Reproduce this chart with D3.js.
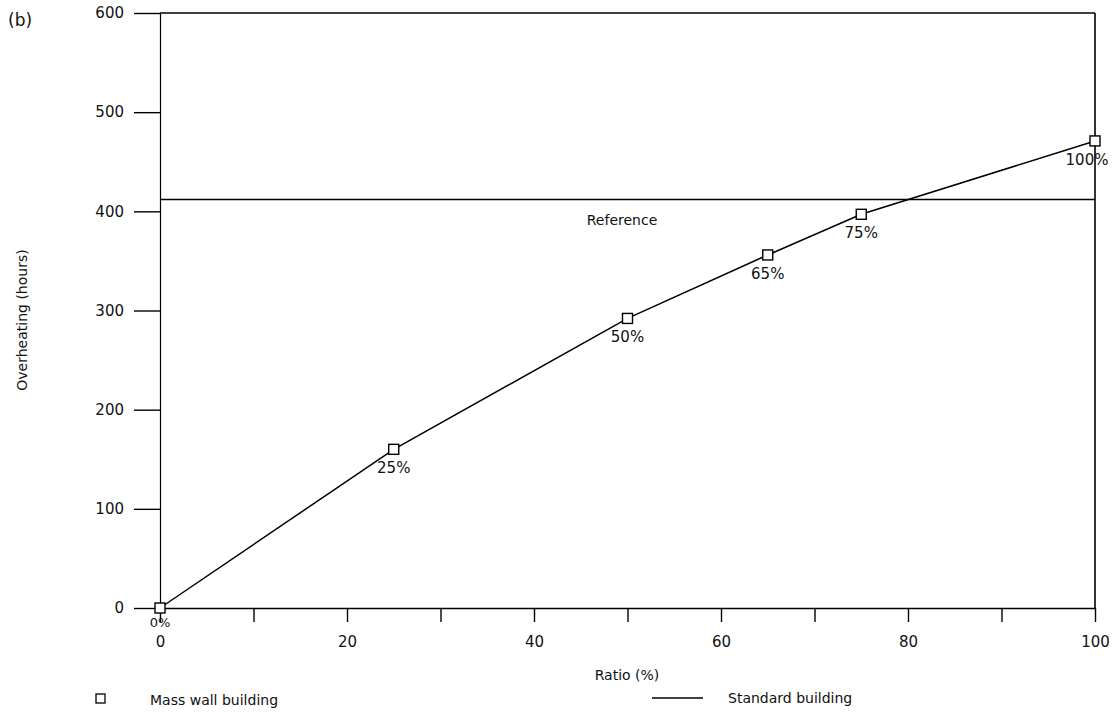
<!DOCTYPE html>
<html>
<head>
<meta charset="utf-8">
<script src="https://cdn.jsdelivr.net/npm/d3@7/dist/d3.min.js"></script>
<style>
  html, body { margin: 0; padding: 0; background: #fff; }
  svg { display: block; }
  text { font-family: "DejaVu Sans", sans-serif; fill: #111; }
</style>
</head>
<body>
<svg id="chart" width="1120" height="714"></svg>
<script>
// Mass wall ratio (%) and resulting overheating hours
const ratios = [0, 25, 50, 65, 75, 100];
const overheating = [0, 160, 292, 356, 397, 471];
const pointLabels = ["0%", "25%", "50%", "65%", "75%", "100%"];
// Standard building (reference) overheating hours
const referenceHours = 412;
const xTicks = [0, 10, 20, 30, 40, 50, 60, 70, 80, 90, 100];
const xTickLabels = ["0", "", "20", "", "40", "", "60", "", "80", "", "100"];
const yTicks = [0, 100, 200, 300, 400, 500, 600];

const svg = d3.select("#chart");
const plot = { left: 160, right: 1095, top: 13, bottom: 608 };

const x = d3.scaleLinear().domain([0, 100]).range([plot.left, plot.right]);
const y = d3.scaleLinear().domain([0, 600]).range([plot.bottom, plot.top]);

// Frame
svg.append("line").attr("x1", plot.left).attr("x2", plot.right).attr("y1", plot.top).attr("y2", plot.top)
  .attr("stroke", "#000").attr("stroke-width", 1.6);
svg.append("line").attr("x1", plot.right).attr("x2", plot.right).attr("y1", plot.top).attr("y2", plot.bottom)
  .attr("stroke", "#000").attr("stroke-width", 1.6);

// Axes
const xAxis = d3.axisBottom(x).tickValues(xTicks)
  .tickFormat((d, i) => xTickLabels[i]).tickSize(14).tickSizeOuter(0).tickPadding(14);
const gx = svg.append("g").attr("transform", `translate(0,${plot.bottom})`).call(xAxis);
gx.select(".domain").attr("stroke-width", 1.6);
gx.selectAll(".tick line").attr("stroke-width", 1.4);
gx.selectAll("text").attr("font-size", 15);

const yAxis = d3.axisLeft(y).tickValues(yTicks).tickSize(26).tickSizeOuter(0).tickPadding(10);
const gy = svg.append("g").attr("transform", `translate(${plot.left},0)`).call(yAxis);
gy.select(".domain").attr("stroke-width", 1.2);
gy.selectAll(".tick line").attr("stroke-width", 1.4);
gy.selectAll("text").attr("font-size", 15);

// Reference line
svg.append("line")
  .attr("x1", x(0)).attr("x2", x(100))
  .attr("y1", y(referenceHours)).attr("y2", y(referenceHours))
  .attr("stroke", "#000").attr("stroke-width", 1.5);
svg.append("text").attr("x", 622).attr("y", y(referenceHours) + 26)
  .attr("text-anchor", "middle").attr("font-size", 14).text("Reference");

// Series line
const pts = ratios.map((r, i) => [r, overheating[i]]);
svg.append("path").datum(pts)
  .attr("fill", "none").attr("stroke", "#000").attr("stroke-width", 1.5)
  .attr("d", d3.line().x(d => x(d[0])).y(d => y(d[1])));

// Markers
svg.selectAll("rect.pt").data(pts).join("rect")
  .attr("class", "pt")
  .attr("x", d => x(d[0]) - 5).attr("y", d => y(d[1]) - 5)
  .attr("width", 10).attr("height", 10)
  .attr("fill", "#fff").attr("stroke", "#000").attr("stroke-width", 1.4);

// Point labels (the 0% one sits tight between the axis and its tick label)
svg.selectAll("text.pl").data(pts).join("text")
  .attr("class", "pl")
  .attr("x", (d, i) => x(d[0]) + (i === 5 ? -8 : 0))
  .attr("y", (d, i) => y(d[1]) + (i === 0 ? 19 : 24))
  .attr("text-anchor", "middle")
  .attr("font-size", (d, i) => i === 0 ? 13 : 15)
  .text((d, i) => pointLabels[i]);

// Axis titles
svg.append("text").attr("x", 627).attr("y", 680).attr("text-anchor", "middle")
  .attr("font-size", 14).text("Ratio (%)");
svg.append("text").attr("transform", "translate(27,320) rotate(-90)")
  .attr("text-anchor", "middle").attr("font-size", 14).text("Overheating (hours)");

// Panel tag
svg.append("text").attr("x", 8).attr("y", 26).attr("font-family", "Liberation Sans, Arial, sans-serif")
  .attr("font-size", 17).text("(b)");

// Legend
svg.append("rect").attr("x", 96).attr("y", 694).attr("width", 9).attr("height", 9)
  .attr("fill", "#fff").attr("stroke", "#000").attr("stroke-width", 1.3);
svg.append("text").attr("x", 150).attr("y", 705).attr("font-size", 14).text("Mass wall building");
svg.append("line").attr("x1", 652).attr("x2", 703).attr("y1", 698).attr("y2", 698)
  .attr("stroke", "#000").attr("stroke-width", 1.3);
svg.append("text").attr("x", 728).attr("y", 703).attr("font-size", 14).text("Standard building");
</script>
</body>
</html>
